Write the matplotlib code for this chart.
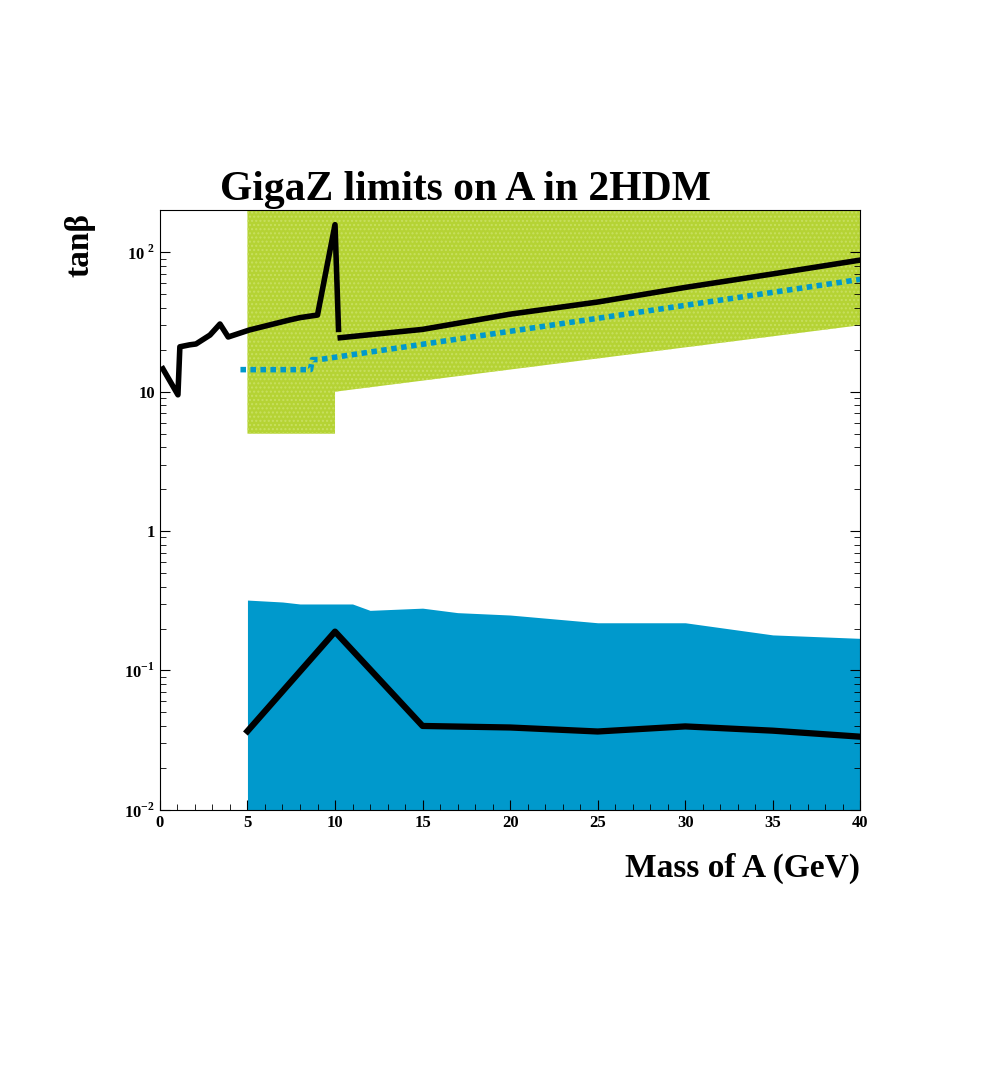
import matplotlib

matplotlib.use("Agg")
import matplotlib.pyplot as plt
from matplotlib.ticker import FixedLocator, LogLocator, NullFormatter

# green excluded region (GigaZ, large tan beta)
GREEN_M = [5, 10, 10, 40]
GREEN_LO = [5, 5, 10, 30]
GREEN_HI = 200

# blue excluded region (small tan beta)
BLUE_M = [5, 7, 8, 11, 12, 15, 17, 20, 25, 30, 35, 40]
BLUE_HI = [0.32, 0.31, 0.30, 0.30, 0.27, 0.28, 0.26, 0.25, 0.22, 0.22, 0.18, 0.17]
BLUE_LO = 0.01

# upper black curve (two pieces)
UP1_M = [0.17, 1.03, 1.14, 1.7, 2.06, 2.86, 3.43, 3.9, 5.1, 7.4, 8.0, 9.0, 10.0, 10.2]
UP1_T = [14.6, 9.5, 21, 21.7, 22, 25.5, 30.6, 24.7, 27.7, 32.7, 34, 35.5, 158, 28]
UP2_M = [10.3, 15, 20, 25, 30, 35, 40]
UP2_T = [24.4, 28, 36, 44, 56, 70, 88]

# dotted blue curve
DOT_M = [4.6, 8.6, 8.7, 9.1, 40]
DOT_T = [14.4, 14.4, 17, 17, 64]

# lower black curve
LOW_M = [5, 10, 15, 20, 25, 30, 35, 40]
LOW_T = [0.0367, 0.19, 0.040, 0.039, 0.0365, 0.0397, 0.037, 0.0335]

YTICKS = [0.01, 0.1, 1, 10, 100]
YLABELS = [r"10$^{\mathbf{-2}}$", r"10$^{\mathbf{-1}}$", "1", "10", r"10$^{\mathbf{\ 2}}$"]

plt.rcParams["font.family"] = "Liberation Serif"
plt.rcParams["mathtext.fontset"] = "custom"
plt.rcParams["mathtext.rm"] = "Liberation Serif:bold"
plt.rcParams["mathtext.bf"] = "Liberation Serif:bold"

fig = plt.figure(figsize=(9.81, 10.90), dpi=100)
ax = fig.add_axes([0.163, 0.257, 0.714, 0.550])
ax.set_yscale("log")
ax.set_xlim(0, 40)
ax.set_ylim(0.01, 200)

ax.fill_between(GREEN_M, GREEN_LO, GREEN_HI, color="#b5d334", hatch="....", edgecolor="#c8e060", lw=0)
ax.fill_between(BLUE_M, BLUE_LO, BLUE_HI, color="#0099cc", lw=0)
ax.plot(UP1_M, UP1_T, color="black", lw=4)
ax.plot(UP2_M, UP2_T, color="black", lw=4)
ax.plot(DOT_M, DOT_T, color="#0099cc", lw=4, ls=(0, (1, 0.8)))
ax.plot(LOW_M, LOW_T, color="black", lw=4.5)

ax.yaxis.set_major_locator(FixedLocator(YTICKS))
ax.set_yticklabels(YLABELS, fontsize=12, fontweight="bold")
ax.yaxis.set_minor_locator(LogLocator(subs=range(2, 10)))
ax.yaxis.set_minor_formatter(NullFormatter())
ax.set_xticks(range(0, 41, 5))
ax.set_xticks(range(0, 41, 1), minor=True)
ax.set_xticklabels([str(v) for v in range(0, 41, 5)], fontsize=12, fontweight="bold")
ax.tick_params(which="both", direction="in", top=False, right=True, length=7)
ax.tick_params(which="minor", length=4)
for s in ax.spines.values():
    s.set_linewidth(0.8)

fig.text(0.475, 0.808, "GigaZ limits on A in 2HDM", ha="center", va="bottom", fontsize=30, fontweight="bold")
fig.text(0.877, 0.203, "Mass of A (GeV)", ha="right", va="center", fontsize=24, fontweight="bold")
fig.text(0.082, 0.775, "tan\u03b2", ha="center", va="center", rotation=90, fontsize=24, fontweight="bold")

fig.savefig("out.png", dpi=100)
